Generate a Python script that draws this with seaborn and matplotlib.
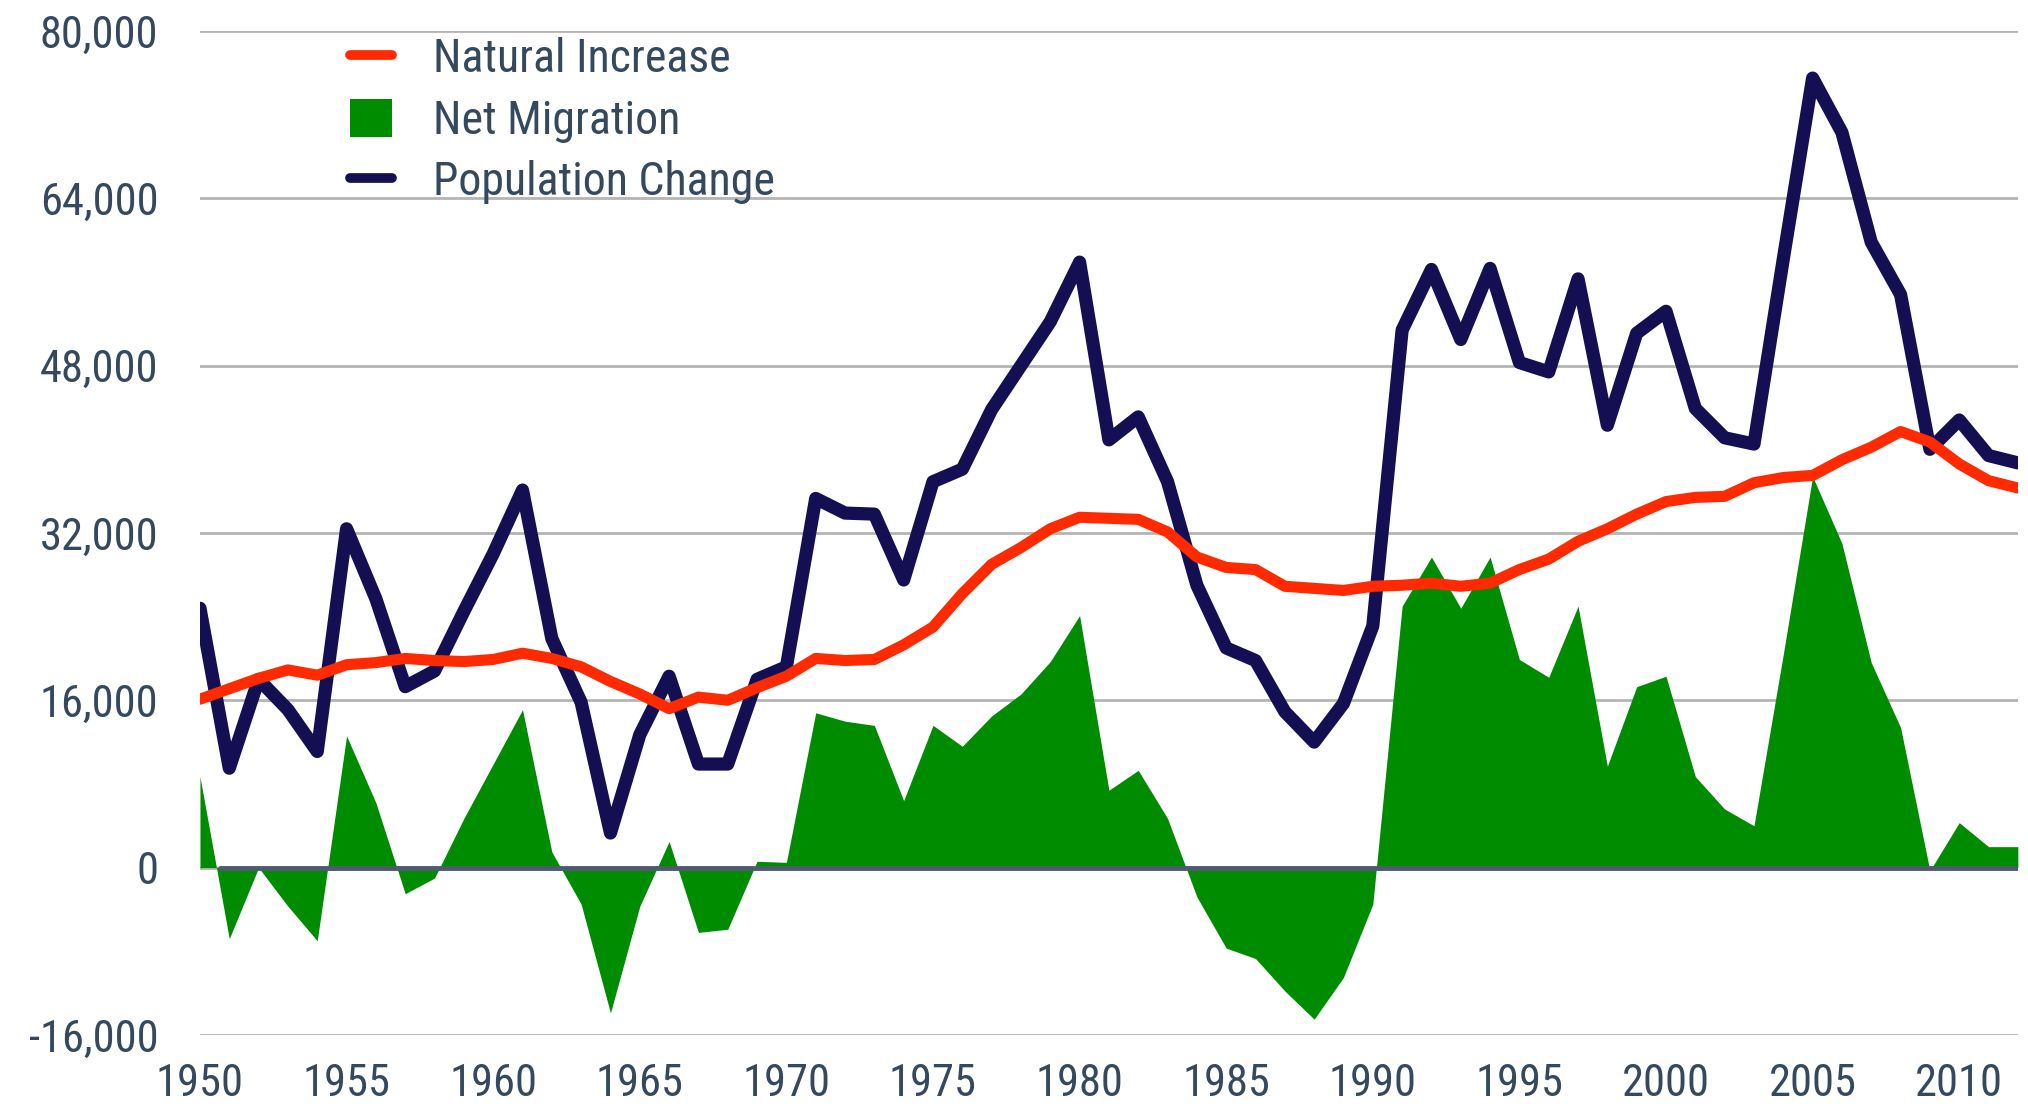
import matplotlib
matplotlib.use("Agg")
import matplotlib.pyplot as plt
import matplotlib.ticker as mticker
from matplotlib.patches import Patch
from matplotlib.lines import Line2D
import seaborn as sns
import pandas as pd

# --- data (persons per year)
years = list(range(1950, 2013))

population_change = [
    24800, 9500, 18000, 15100, 11100, 32400, 25700, 17300, 18800, 24500,
    30000, 36100, 21900, 15800, 3300, 12700, 18300, 9900, 9900, 18000,
    19200, 35300, 33900, 33800, 27500, 36900, 38100, 43800, 48000, 52200,
    57900, 40900, 43100, 36900, 27000, 21000, 19800, 14900, 12000, 15700,
    23100, 51400, 57200, 50500, 57300, 48300, 47400, 56300, 42300, 51100,
    53200, 43900, 41100, 40500, 58200, 75500, 70300, 59800, 54800, 40000,
    42800, 39400, 38700,
]

natural_increase = [
    16100, 17100, 18100, 18900, 18400, 19400, 19600, 20000, 19800, 19700,
    19900, 20500, 20000, 19200, 17800, 16600, 15200, 16300, 16000, 17200,
    18300, 20000, 19800, 19900, 21300, 23000, 26200, 29000, 30600, 32400,
    33500, 33400, 33300, 32100, 29700, 28700, 28500, 26900, 26700, 26500,
    26900, 27000, 27200, 26900, 27200, 28500, 29500, 31200, 32400, 33800,
    35000, 35400, 35500, 36800, 37300, 37500, 39000, 40200, 41700, 40700,
    38600, 37000, 36300,
]

net_migration = [
    8700, -6800, 0, -3700, -7000, 12600, 6200, -2500, -1000, 4700,
    9900, 15100, 1500, -3500, -13900, -3700, 2500, -6200, -5900, 600,
    500, 14800, 14000, 13600, 6400, 13600, 11600, 14500, 16600, 19700,
    24100, 7400, 9300, 4700, -2800, -7700, -8700, -11800, -14500, -10500,
    -3500, 25000, 29700, 24800, 29700, 19900, 18200, 25000, 9700, 17300,
    18300, 8700, 5600, 4000, 20400, 37400, 31000, 19600, 13400, -300,
    4300, 2000, 2000,
]

df = pd.DataFrame({
    "year": years,
    "Population Change": population_change,
    "Natural Increase": natural_increase,
    "Net Migration": net_migration,
})

RED = "#ff2a00"
NAVY = "#140f52"
GREEN = "#008c00"
TEXT = "#34495e"

sns.set_style("white")
plt.rcParams["font.family"] = ["Liberation Sans Narrow", "Roboto Condensed", "Roboto", "DejaVu Sans"]

fig, ax = plt.subplots(figsize=(20.28, 11.08), dpi=100)
fig.subplots_adjust(left=0.0986, right=0.995, top=0.972, bottom=0.066)

ax.fill_between(df["year"], 0, df["Net Migration"], color=GREEN, linewidth=0, zorder=2)
ax.axhline(0, xmin=0.011, xmax=1, color="#4d5a70", linewidth=3.5, zorder=3)

sns.lineplot(data=df, x="year", y="Population Change", color=NAVY, linewidth=9.5,
             ax=ax, zorder=4)
sns.lineplot(data=df, x="year", y="Natural Increase", color=RED, linewidth=8,
             ax=ax, zorder=5)

ax.set_xlim(1950, 2012)
ax.set_ylim(-16000, 80000)
ax.set_xticks(range(1950, 2011, 5))
ax.set_yticks(range(-16000, 80001, 16000))
ax.yaxis.set_major_formatter(mticker.FuncFormatter(lambda v, p: f"{int(v):,}"))
ax.yaxis.grid(True, color="#b4b4b4", linewidth=2)
ax.xaxis.grid(False)
ax.set_xlabel("")
ax.set_ylabel("")
for s in ax.spines.values():
    s.set_visible(False)
ax.tick_params(axis="both", length=0, labelsize=32, labelcolor=TEXT)
ax.tick_params(axis="y", pad=30)
ax.tick_params(axis="x", pad=20)

handles = [
    Line2D([0], [0], color=RED, linewidth=7),
    Patch(facecolor=GREEN, edgecolor="none"),
    Line2D([0], [0], color=NAVY, linewidth=7),
]
labels = ["Natural Increase", "Net Migration", "Population Change"]
leg = ax.legend(handles, labels, loc="upper left", bbox_to_anchor=(0.06, 1.035),
                frameon=False, fontsize=33, handlelength=0.9, handleheight=0.9,
                handletextpad=0.9, labelspacing=0.38, labelcolor=TEXT)

fig.savefig("out.png", dpi=100)
